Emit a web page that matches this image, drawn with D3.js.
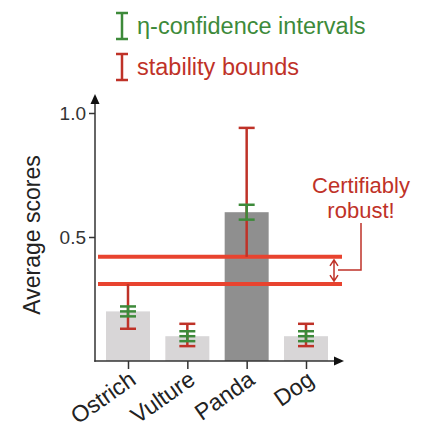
<!DOCTYPE html>
<html>
<head>
<meta charset="utf-8">
<script src="https://cdn.jsdelivr.net/npm/d3@7"></script>
<style>
  body { margin: 0; background: #fff; }
  text { font-family: "Liberation Sans", Arial, Helvetica, sans-serif; }
</style>
</head>
<body>
<svg id="chart" width="421" height="424"></svg>
<script>
// data
const categories = ["Ostrich", "Vulture", "Panda", "Dog"];
const scores = [0.2, 0.1, 0.6, 0.1];
const highlighted = [false, false, true, false];
const confLow = [0.18, 0.08, 0.57, 0.08];
const confHigh = [0.22, 0.12, 0.63, 0.12];
const stabLow = [0.13, 0.06, 0.42, 0.06];
const stabHigh = [0.31, 0.15, 0.94, 0.15];
const showMean = [true, true, false, true];
const thresholds = [0.31, 0.42];
const yTicks = [0.5, 1.0];

const RED = "#e8432f", DARKRED = "#bf3228", GREEN = "#3d8a3a";

const svg = d3.select("#chart");

const y = d3.scaleLinear().domain([0, 1]).range([361, 113]);
const x = d3.scalePoint().domain(categories).range([128, 306]);
const barW = 44;

const rows = categories.map((c, i) => ({
    cat: c, v: scores[i], hi: highlighted[i],
    cl: confLow[i], ch: confHigh[i], sl: stabLow[i], sh: stabHigh[i], mean: showMean[i]
}));

// bars
svg.append("g").selectAll("rect")
    .data(rows)
    .join("rect")
    .attr("x", d => x(d.cat) - barW / 2)
    .attr("y", d => y(d.v))
    .attr("width", barW)
    .attr("height", d => y(0) - y(d.v))
    .attr("fill", d => d.hi ? "#8f8f8f" : "#d8d6d7");

// threshold lines
svg.append("g").selectAll("line")
    .data(thresholds)
    .join("line")
    .attr("x1", 98).attr("x2", 342)
    .attr("y1", d => y(d)).attr("y2", d => y(d))
    .attr("stroke", RED).attr("stroke-width", 4);

// stability bounds (red)
const gStab = svg.append("g").attr("stroke", DARKRED).attr("stroke-width", 2.5);
rows.forEach(d => {
    const cx = x(d.cat);
    gStab.append("line").attr("x1", cx).attr("x2", cx).attr("y1", y(d.sh)).attr("y2", y(d.sl));
    [d.sl, d.sh].forEach(v => {
        if (thresholds.includes(v)) return; // cap hidden by threshold line
        gStab.append("line").attr("x1", cx - 8).attr("x2", cx + 8).attr("y1", y(v)).attr("y2", y(v));
    });
});

// confidence intervals (green)
const gConf = svg.append("g").attr("stroke", GREEN).attr("stroke-width", 2.5);
rows.forEach(d => {
    const cx = x(d.cat);
    gConf.append("line").attr("x1", cx).attr("x2", cx).attr("y1", y(d.ch)).attr("y2", y(d.cl));
    const caps = d.mean ? [d.cl, d.v, d.ch] : [d.cl, d.ch];
    caps.forEach(v => {
        gConf.append("line").attr("x1", cx - 8).attr("x2", cx + 8).attr("y1", y(v)).attr("y2", y(v));
    });
});

// axes
const axisColor = "#333";
const gy = svg.append("g").attr("transform", "translate(95,0)")
    .call(d3.axisLeft(y).tickValues(yTicks).tickFormat(d3.format(".1f")).tickSize(6).tickPadding(3));
gy.select(".domain").remove();
gy.selectAll(".tick line").attr("stroke", axisColor).attr("stroke-width", 1.5);
gy.selectAll(".tick text").attr("font-size", 19).attr("fill", "#333").attr("font-family", null);

const gx = svg.append("g").attr("transform", `translate(0,${y(0)})`)
    .call(d3.axisBottom(x).tickSize(8).tickSizeOuter(0));
gx.select(".domain").remove();
gx.selectAll(".tick line").attr("stroke", axisColor).attr("stroke-width", 1.5);
gx.selectAll(".tick text")
    .attr("font-size", 23).attr("fill", "#222").attr("font-family", null)
    .attr("text-anchor", "end")
    .attr("dy", null).attr("y", 0)
    .attr("transform", "translate(9,22) rotate(-35)");

svg.append("line").attr("x1", 95).attr("x2", 95).attr("y1", y(0) + 0.75).attr("y2", 102)
    .attr("stroke", axisColor).attr("stroke-width", 1.5);
svg.append("path").attr("d", "M95,94 L90.5,104 L99.5,104 Z").attr("fill", "#111");
svg.append("line").attr("x1", 94.25).attr("x2", 336).attr("y1", y(0)).attr("y2", y(0))
    .attr("stroke", axisColor).attr("stroke-width", 1.5);
svg.append("path").attr("d", `M344,${y(0)} L334,${y(0) - 4.5} L334,${y(0) + 4.5} Z`).attr("fill", "#111");

// y label
svg.append("text")
    .attr("transform", "translate(40,235) rotate(-90)")
    .attr("text-anchor", "middle")
    .attr("font-size", 23).attr("fill", "#222")
    .text("Average scores");

// legend
const legend = [
    { label: "η-confidence intervals", color: GREEN, y: 26 },
    { label: "stability bounds", color: DARKRED, y: 67 }
];
const gl = svg.append("g");
legend.forEach(l => {
    gl.append("path")
        .attr("d", `M116,${l.y - 13} H128 M122,${l.y - 13} V${l.y + 13} M116,${l.y + 13} H128`)
        .attr("stroke", l.color).attr("stroke-width", 2.5).attr("fill", "none");
    gl.append("text").attr("x", 137).attr("y", l.y + 8)
        .attr("font-size", 23.5).attr("fill", l.color).text(l.label);
});

// annotation
const ann = svg.append("g");
ann.append("text").attr("x", 361).attr("y", 193).attr("text-anchor", "middle")
    .attr("font-size", 22).attr("fill", DARKRED).text("Certifiably");
ann.append("text").attr("x", 361).attr("y", 218).attr("text-anchor", "middle")
    .attr("font-size", 22).attr("fill", DARKRED).text("robust!");
ann.append("path").attr("d", "M361,223 V270 H338")
    .attr("stroke", DARKRED).attr("stroke-width", 1.5).attr("fill", "none");
const ya = y(thresholds[1]) + 3, yb = y(thresholds[0]) - 3;
ann.append("path")
    .attr("d", `M334,${ya} V${yb} M330,${ya + 6} L334,${ya} L338,${ya + 6} M330,${yb - 6} L334,${yb} L338,${yb - 6}`)
    .attr("stroke", DARKRED).attr("stroke-width", 1.5).attr("fill", "none");
</script>
</body>
</html>
